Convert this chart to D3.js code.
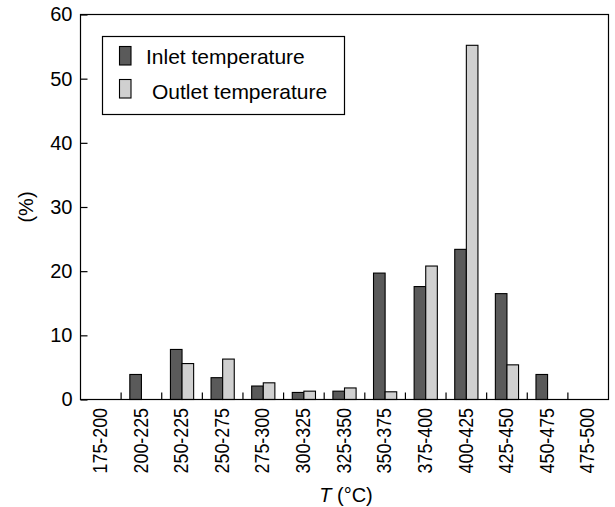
<!DOCTYPE html>
<html>
<head>
<meta charset="utf-8">
<script src="https://cdn.jsdelivr.net/npm/d3@7"></script>
<style>
  html, body { margin: 0; padding: 0; background: #fff; }
  svg { display: block; font-family: "Liberation Sans", Arial, sans-serif; }
</style>
</head>
<body>
<svg id="chart" width="615" height="507"></svg>
<script>
const categories = ["175-200","200-225","250-225","250-275","275-300","300-325","325-350","350-375","375-400","400-425","425-450","450-475","475-500"];
const inletValues  = [0, 3.9, 7.8, 3.4, 2.1, 1.1, 1.3, 19.7, 17.6, 23.4, 16.5, 3.9, 0];
const outletValues = [0, 0, 5.6, 6.3, 2.6, 1.3, 1.8, 1.2, 20.8, 55.2, 5.4, 0, 0];
const seriesNames = ["Inlet temperature", "Outlet temperature"];
const yTicks = [0, 10, 20, 30, 40, 50, 60];

const colors = ["#5a5a5a", "#d0d0d0"];
const svg = d3.select("#chart");
const pLeft = 80.5, pRight = 608.5, pTop = 14.5, pBottom = 399.5;

const x = d3.scaleBand().domain(categories).range([pLeft, pRight]).padding(0);
const y = d3.scaleLinear().domain([0, 60]).range([pBottom, pTop]);
const barW = 11.6;

// bars
const series = [inletValues, outletValues];
series.forEach((vals, si) => {
  svg.append("g").selectAll("rect").data(categories).join("rect")
    .attr("x", (d) => x(d) + x.bandwidth() / 2 - barW + si * barW)
    .attr("y", (d, i) => y(vals[i]))
    .attr("width", barW)
    .attr("height", (d, i) => pBottom - y(vals[i]))
    .attr("fill", colors[si])
    .attr("stroke", (d, i) => vals[i] > 0 ? "#000" : "none")
    .attr("stroke-width", 1.1);
});

// frame
svg.append("rect").attr("x", pLeft).attr("y", pTop)
  .attr("width", pRight - pLeft).attr("height", pBottom - pTop)
  .attr("fill", "none").attr("stroke", "#000").attr("stroke-width", 1.2);

// y axis
const yAxis = d3.axisLeft(y).tickValues(yTicks).tickSize(-7).tickPadding(8).tickFormat(d3.format("d"));
const gy = svg.append("g").attr("transform", `translate(${pLeft},0)`).call(yAxis);
gy.select(".domain").remove();
gy.selectAll(".tick line").attr("stroke", "#000").attr("stroke-width", 1.2);
gy.selectAll(".tick text").attr("font-size", 20).attr("fill", "#000")
  .attr("font-family", "Liberation Sans, Arial, sans-serif");

// x ticks at band boundaries
const boundaries = categories.slice(1).map(c => x(c));
svg.append("g").selectAll("line").data(boundaries).join("line")
  .attr("x1", d => d).attr("x2", d => d)
  .attr("y1", pBottom).attr("y2", pBottom - 7)
  .attr("stroke", "#000").attr("stroke-width", 1.2);

// x labels
const xAxis = d3.axisBottom(x).tickSize(0).tickPadding(0);
const gx = svg.append("g").attr("transform", `translate(0,${pBottom})`).call(xAxis);
gx.select(".domain").remove();
gx.selectAll(".tick text")
  .attr("font-size", 20.5).attr("fill", "#000")
  .attr("font-family", "Liberation Sans, Arial, sans-serif")
  .attr("text-anchor", "end")
  .attr("transform", "translate(-1,8.5) rotate(-90) scale(0.87,1)")
  .attr("x", 0).attr("y", 0).attr("dy", "0.35em");

// axis titles
const xt = svg.append("text").attr("x", 346).attr("y", 502)
  .attr("text-anchor", "middle").attr("font-size", 20);
xt.append("tspan").attr("font-style", "italic").text("T");
xt.append("tspan").text(" (°C)");

svg.append("text").attr("transform", "translate(33,207) rotate(-90)")
  .attr("text-anchor", "middle").attr("font-size", 20).text("(%)");

// legend
const lg = svg.append("g");
lg.append("rect").attr("x", 102.5).attr("y", 36.5).attr("width", 242).attr("height", 78)
  .attr("fill", "#fff").attr("stroke", "#000").attr("stroke-width", 1.2);
const legendRows = [{ y: 46.5, tx: 146, ty: 64 }, { y: 79.5, tx: 152, ty: 99 }];
seriesNames.forEach((name, i) => {
  lg.append("rect").attr("x", 119.5).attr("y", legendRows[i].y).attr("width", 11.5).attr("height", 18.5)
    .attr("fill", colors[i]).attr("stroke", "#000").attr("stroke-width", 1.1);
  lg.append("text").attr("x", legendRows[i].tx).attr("y", legendRows[i].ty)
    .attr("font-size", 21).text(name);
});
</script>
</body>
</html>
